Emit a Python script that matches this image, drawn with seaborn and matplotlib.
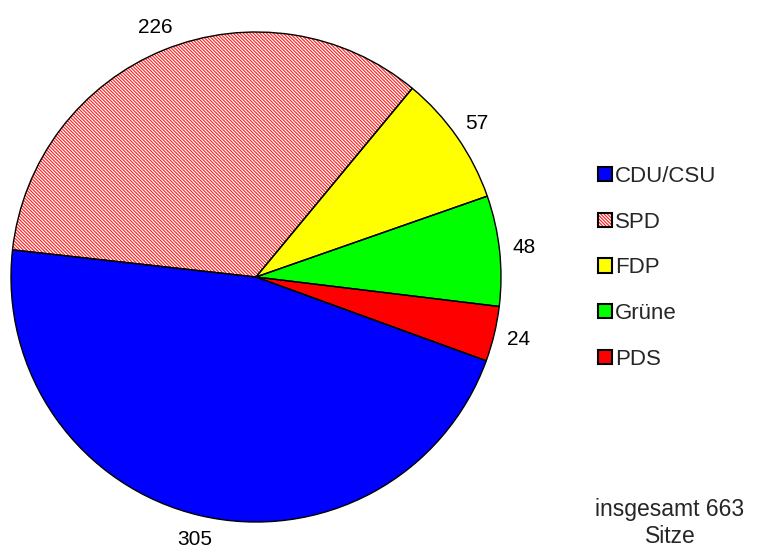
import matplotlib
matplotlib.use("Agg")
import matplotlib.pyplot as plt
import seaborn as sns
from matplotlib.patches import Patch
from matplotlib.legend_handler import HandlerTuple

# Bundestag seats
parties = ["CDU/CSU", "SPD", "FDP", "Grüne", "PDS"]
seats = [305, 226, 57, 48, 24]
colors = ["#0000ff", "#ffffff", "#ffff00", "#00ff00", "#ff0000"]
note = "insgesamt 663\nSitze"

sns.set_theme(style="white")
plt.rcParams['font.family'] = ['Liberation Sans', 'DejaVu Sans']
plt.rcParams['hatch.linewidth'] = 0.8

spd_hatch = "\\" * 10

fig = plt.figure(figsize=(7.69, 5.48), dpi=100)
ax = fig.add_axes([11 / 769, 26 / 548, 490 / 769, 490 / 548])

# fill layer (SPD gets a red hatch)
wedges, _ = ax.pie(seats, colors=colors, startangle=340, counterclock=False,
                   wedgeprops=dict(linewidth=0))
wedges[1].set_edgecolor("#ff1a1a")
wedges[1].set_hatch(spd_hatch)

# outline layer + value labels
ax.pie(seats, colors=["none"] * len(seats), startangle=340, counterclock=False,
       wedgeprops=dict(edgecolor="black", linewidth=1.0),
       autopct=lambda p: f"{round(p * sum(seats) / 100)}", pctdistance=1.1,
       textprops=dict(fontsize=15, color="black"))
ax.set_xlim(-1, 1)
ax.set_ylim(-1, 1)
ax.set_aspect("equal")
ax.axis("off")

handles = []
for i, c in enumerate(colors):
    if i == 1:
        handles.append((Patch(facecolor="white", edgecolor="#ff1a1a", hatch=spd_hatch, linewidth=0),
                        Patch(facecolor="none", edgecolor="black", linewidth=1.5)))
    else:
        handles.append(Patch(facecolor=c, edgecolor="black", linewidth=1.5))

fig.legend(handles, parties, loc="upper left", bbox_to_anchor=(598 / 769, 1 - 166 / 548),
           frameon=False, fontsize=16, handlelength=0.62, handleheight=0.62,
           handletextpad=0.15, labelspacing=1.11, borderpad=0, borderaxespad=0,
           handler_map={tuple: HandlerTuple(ndivide=1)})

fig.text(670 / 769, 1 - 523 / 548, note, ha="center", va="center", fontsize=16.5,
         linespacing=1.2)

fig.savefig("out.png", dpi=100)
